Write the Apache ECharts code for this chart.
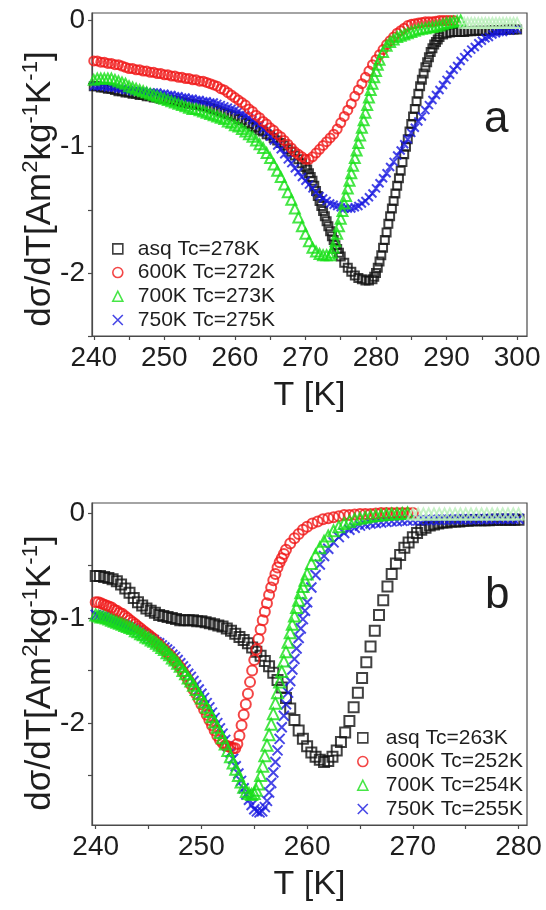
<!DOCTYPE html>
<html>
<head>
<meta charset="utf-8">
<script src="https://cdn.jsdelivr.net/npm/echarts@6/dist/echarts.min.js"></script>
<style>
html,body{margin:0;padding:0;background:#fff;}
#chart{width:546px;height:910px;}
</style>
</head>
<body>
<div id="chart"></div>
<script>
// ---------- panel a : as-quenched and annealed ribbons ----------
var aNames = ['asq Tc=278K', '600K Tc=272K', '700K Tc=273K', '750K Tc=275K'];

var aAsq = [[240,-0.52],[240.5,-0.52],[241,-0.53],[241.5,-0.53],[242,-0.54],[242.5,-0.54],[243,-0.55],[243.5,-0.56],[244,-0.56],[244.5,-0.57],[245,-0.57],[245.5,-0.58],[246,-0.58],[246.5,-0.59],[247,-0.59],[247.5,-0.60],[248,-0.60],[248.5,-0.61],[249,-0.61],[249.5,-0.62],[250,-0.62],[250.5,-0.63],[251,-0.63],[251.5,-0.64],[252,-0.64],[252.5,-0.65],[253,-0.65],[253.5,-0.66],[254,-0.66],[254.5,-0.67],[255,-0.67],[255.5,-0.68],[256,-0.68],[256.5,-0.69],[257,-0.70],[257.5,-0.71],[258,-0.72],[258.5,-0.73],[259,-0.74],[259.5,-0.75],[260,-0.76],[260.5,-0.78],[261,-0.79],[261.5,-0.81],[262,-0.82],[262.5,-0.84],[263,-0.85],[263.5,-0.87],[264,-0.88],[264.5,-0.90],[265,-0.91],[265.5,-0.93],[266,-0.95],[266.5,-0.97],[267,-0.99],[267.5,-1.02],[268,-1.04],[268.5,-1.07],[269,-1.10],[269.5,-1.13],[270,-1.16],[270.25,-1.18],[270.5,-1.21],[270.75,-1.24],[271,-1.27],[271.25,-1.31],[271.5,-1.35],[271.75,-1.39],[272,-1.43],[272.25,-1.47],[272.5,-1.51],[272.75,-1.55],[273,-1.59],[273.25,-1.63],[273.5,-1.67],[273.75,-1.71],[274,-1.74],[274.25,-1.78],[274.5,-1.81],[274.75,-1.84],[275,-1.87],[275.5,-1.92],[276,-1.96],[276.5,-1.99],[277,-2.02],[277.5,-2.04],[278,-2.05],[278.5,-2.06],[279,-2.06],[279.5,-2.05],[279.75,-2.03],[280,-2.00],[280.25,-1.96],[280.5,-1.91],[280.75,-1.86],[281,-1.80],[281.25,-1.74],[281.5,-1.68],[281.75,-1.61],[282,-1.55],[282.25,-1.49],[282.5,-1.43],[282.75,-1.37],[283,-1.31],[283.25,-1.25],[283.5,-1.19],[283.75,-1.12],[284,-1.06],[284.25,-1.00],[284.5,-0.94],[284.75,-0.88],[285,-0.82],[285.25,-0.76],[285.5,-0.70],[285.75,-0.64],[286,-0.58],[286.25,-0.52],[286.5,-0.47],[286.75,-0.42],[287,-0.37],[287.25,-0.33],[287.5,-0.29],[287.75,-0.25],[288,-0.22],[288.25,-0.19],[288.5,-0.17],[288.75,-0.15],[289,-0.13],[289.5,-0.11],[290,-0.10],[290.5,-0.095],[291,-0.09],[291.5,-0.09],[292,-0.09],[292.5,-0.09],[293,-0.085],[293.5,-0.085],[294,-0.08],[294.5,-0.08],[295,-0.08],[295.5,-0.08],[296,-0.08],[296.5,-0.075],[297,-0.075],[297.5,-0.075],[298,-0.075],[298.5,-0.07],[299,-0.07],[299.5,-0.07],[300,-0.07]];

var a600 = [[240,-0.32],[240.5,-0.32],[241,-0.33],[241.5,-0.33],[242,-0.34],[242.5,-0.34],[243,-0.35],[243.5,-0.35],[244,-0.36],[244.5,-0.37],[245,-0.38],[245.5,-0.38],[246,-0.39],[246.5,-0.39],[247,-0.40],[247.5,-0.40],[248,-0.41],[248.5,-0.41],[249,-0.42],[249.5,-0.42],[250,-0.43],[250.5,-0.43],[251,-0.44],[251.5,-0.44],[252,-0.45],[252.5,-0.45],[253,-0.46],[253.5,-0.46],[254,-0.47],[254.5,-0.47],[255,-0.48],[255.5,-0.48],[256,-0.49],[256.5,-0.50],[257,-0.51],[257.5,-0.52],[258,-0.54],[258.5,-0.55],[259,-0.57],[259.5,-0.59],[260,-0.61],[260.5,-0.63],[261,-0.65],[261.5,-0.67],[262,-0.70],[262.5,-0.72],[263,-0.75],[263.5,-0.77],[264,-0.80],[264.5,-0.82],[265,-0.85],[265.5,-0.87],[266,-0.90],[266.5,-0.92],[267,-0.95],[267.5,-0.98],[268,-1.01],[268.5,-1.04],[269,-1.06],[269.5,-1.08],[270,-1.10],[270.5,-1.10],[271,-1.08],[271.5,-1.05],[272,-1.02],[272.5,-0.99],[273,-0.96],[273.5,-0.93],[274,-0.90],[274.5,-0.86],[275,-0.81],[275.5,-0.76],[276,-0.71],[276.5,-0.66],[277,-0.60],[277.5,-0.55],[278,-0.50],[278.5,-0.45],[279,-0.40],[279.5,-0.35],[280,-0.31],[280.5,-0.27],[281,-0.23],[281.5,-0.19],[282,-0.16],[282.5,-0.13],[283,-0.10],[283.5,-0.08],[284,-0.06],[284.5,-0.04],[285,-0.03],[285.5,-0.025],[286,-0.02],[286.5,-0.015],[287,-0.01],[287.5,-0.01],[288,-0.01],[288.5,-0.005],[289,0],[289.5,0],[290,0],[290.5,0],[291,0]];

var a700 = [[240,-0.47],[240.5,-0.46],[241,-0.46],[241.5,-0.46],[242,-0.46],[242.5,-0.46],[243,-0.47],[243.5,-0.48],[244,-0.49],[244.5,-0.50],[245,-0.52],[245.5,-0.53],[246,-0.54],[246.5,-0.55],[247,-0.56],[247.5,-0.57],[248,-0.58],[248.5,-0.59],[249,-0.60],[249.5,-0.61],[250,-0.62],[250.5,-0.63],[251,-0.64],[251.5,-0.65],[252,-0.66],[252.5,-0.67],[253,-0.68],[253.5,-0.69],[254,-0.70],[254.5,-0.70],[255,-0.71],[255.5,-0.72],[256,-0.73],[256.5,-0.74],[257,-0.75],[257.5,-0.76],[258,-0.77],[258.5,-0.78],[259,-0.80],[259.5,-0.81],[260,-0.83],[260.5,-0.84],[261,-0.86],[261.5,-0.88],[262,-0.90],[262.5,-0.92],[263,-0.95],[263.5,-0.98],[264,-1.01],[264.5,-1.05],[265,-1.09],[265.5,-1.14],[266,-1.19],[266.5,-1.24],[267,-1.30],[267.5,-1.36],[268,-1.42],[268.5,-1.49],[269,-1.56],[269.5,-1.63],[270,-1.69],[270.5,-1.75],[271,-1.80],[271.5,-1.83],[272,-1.85],[272.5,-1.86],[273,-1.86],[273.5,-1.86],[273.75,-1.84],[274,-1.80],[274.25,-1.75],[274.5,-1.69],[274.75,-1.63],[275,-1.57],[275.25,-1.51],[275.5,-1.45],[275.75,-1.39],[276,-1.33],[276.25,-1.27],[276.5,-1.21],[276.75,-1.15],[277,-1.09],[277.25,-1.03],[277.5,-0.97],[277.75,-0.91],[278,-0.85],[278.25,-0.79],[278.5,-0.73],[278.75,-0.67],[279,-0.61],[279.25,-0.55],[279.5,-0.50],[279.75,-0.45],[280,-0.40],[280.25,-0.35],[280.5,-0.31],[281,-0.25],[281.5,-0.20],[282,-0.17],[282.5,-0.15],[283,-0.13],[283.5,-0.12],[284,-0.11],[284.5,-0.10],[285,-0.09],[285.5,-0.08],[286,-0.07],[286.5,-0.065],[287,-0.06],[287.5,-0.055],[288,-0.05],[288.5,-0.045],[289,-0.04],[289.5,-0.03],[290,-0.02],[290.5,-0.015],[291,-0.01],[291.5,-0.005],[292,0]];
var a700Tail = [[292.5,-0.02],[293,-0.02],[293.5,-0.02],[294,-0.02],[294.5,-0.02],[295,-0.02],[295.5,-0.02],[296,-0.02],[296.5,-0.02],[297,-0.02],[297.5,-0.02],[298,-0.02],[298.5,-0.02],[299,-0.02],[299.5,-0.02],[300,-0.02]];

var a750 = [[240,-0.52],[240.5,-0.52],[241,-0.52],[241.5,-0.52],[242,-0.53],[242.5,-0.53],[243,-0.53],[243.5,-0.54],[244,-0.54],[244.5,-0.55],[245,-0.55],[245.5,-0.56],[246,-0.56],[246.5,-0.56],[247,-0.56],[247.5,-0.57],[248,-0.57],[248.5,-0.57],[249,-0.57],[249.5,-0.58],[250,-0.58],[250.5,-0.59],[251,-0.59],[251.5,-0.60],[252,-0.60],[252.5,-0.61],[253,-0.61],[253.5,-0.62],[254,-0.62],[254.5,-0.63],[255,-0.63],[255.5,-0.64],[256,-0.64],[256.5,-0.65],[257,-0.65],[257.5,-0.66],[258,-0.67],[258.5,-0.68],[259,-0.69],[259.5,-0.70],[260,-0.71],[260.5,-0.72],[261,-0.74],[261.5,-0.75],[262,-0.77],[262.5,-0.79],[263,-0.81],[263.5,-0.83],[264,-0.86],[264.5,-0.89],[265,-0.92],[265.5,-0.95],[266,-0.99],[266.5,-1.02],[267,-1.06],[267.5,-1.10],[268,-1.13],[268.5,-1.17],[269,-1.20],[269.5,-1.24],[270,-1.27],[270.5,-1.30],[271,-1.33],[271.5,-1.36],[272,-1.39],[272.5,-1.41],[273,-1.43],[273.5,-1.45],[274,-1.46],[274.5,-1.47],[275,-1.48],[275.5,-1.49],[276,-1.49],[276.5,-1.49],[277,-1.48],[277.5,-1.47],[278,-1.45],[278.5,-1.43],[279,-1.40],[279.5,-1.37],[280,-1.33],[280.5,-1.29],[281,-1.25],[281.5,-1.21],[282,-1.16],[282.5,-1.12],[283,-1.07],[283.5,-1.03],[284,-0.98],[284.5,-0.94],[285,-0.89],[285.5,-0.85],[286,-0.80],[286.5,-0.76],[287,-0.71],[287.5,-0.67],[288,-0.63],[288.5,-0.59],[289,-0.55],[289.5,-0.51],[290,-0.47],[290.5,-0.43],[291,-0.39],[291.5,-0.36],[292,-0.32],[292.5,-0.29],[293,-0.26],[293.5,-0.23],[294,-0.21],[294.5,-0.18],[295,-0.16],[295.5,-0.14],[296,-0.13],[296.5,-0.11],[297,-0.10],[297.5,-0.09],[298,-0.09],[298.5,-0.08],[299,-0.08],[299.5,-0.07],[300,-0.07]];

var aXLabels = [240, 250, 260, 270, 280, 290, 300];
var aXTicks = [240, 245, 250, 255, 260, 265, 270, 275, 280, 285, 290, 295, 300];
var aYLabels = [0, -1, -2];
var aYTicks = [0, -0.5, -1, -1.5, -2, -2.5];

// ---------- panel b ----------
var bNames = ['asq Tc=263K', '600K Tc=252K', '700K Tc=254K', '750K Tc=255K'];

var bAsq = [[240.0,-0.60],[240.4,-0.60],[240.8,-0.61],[241.2,-0.62],[241.6,-0.63],[242.0,-0.65],[242.4,-0.68],[242.8,-0.72],[243.2,-0.76],[243.6,-0.81],[244.0,-0.85],[244.4,-0.88],[244.8,-0.91],[245.2,-0.93],[245.6,-0.95],[246.0,-0.97],[246.4,-0.98],[246.8,-0.99],[247.2,-1.00],[247.6,-1.01],[248.0,-1.02],[248.4,-1.02],[248.8,-1.02],[249.2,-1.02],[249.6,-1.03],[250.0,-1.03],[250.4,-1.04],[250.8,-1.05],[251.2,-1.06],[251.6,-1.07],[252.0,-1.08],[252.4,-1.10],[252.8,-1.12],[253.2,-1.15],[253.6,-1.18],[254.0,-1.21],[254.4,-1.24],[254.8,-1.28],[255.2,-1.32],[255.6,-1.36],[256.0,-1.41],[256.4,-1.46],[256.8,-1.52],[257.2,-1.59],[257.6,-1.66],[258.0,-1.76],[258.4,-1.86],[258.8,-1.97],[259.2,-2.07],[259.6,-2.15],[260.0,-2.22],[260.4,-2.28],[260.8,-2.32],[261.2,-2.35],[261.6,-2.37],[262.0,-2.36],[262.4,-2.32],[262.8,-2.26],[263.2,-2.18],[263.6,-2.09],[264.0,-1.98],[264.4,-1.85],[264.8,-1.71],[265.2,-1.57],[265.6,-1.42],[266.0,-1.27],[266.4,-1.12],[266.8,-0.97],[267.2,-0.83],[267.6,-0.70],[268.0,-0.58],[268.4,-0.48],[268.8,-0.40],[269.2,-0.33],[269.6,-0.28],[270.0,-0.23],[270.4,-0.19],[270.8,-0.16],[271.2,-0.14],[271.6,-0.12],[272.0,-0.11],[272.4,-0.10],[272.8,-0.09],[273.2,-0.09],[273.6,-0.08],[274.0,-0.08],[274.4,-0.08],[274.8,-0.075],[275.2,-0.075],[275.6,-0.07],[276.0,-0.07],[276.4,-0.07],[276.8,-0.07],[277.2,-0.07],[277.6,-0.065],[278.0,-0.065],[278.4,-0.065],[278.8,-0.065],[279.2,-0.065],[279.6,-0.065],[280.0,-0.065]];

var b600 = [[240,-0.85],[240.25,-0.85],[240.5,-0.86],[240.75,-0.87],[241,-0.88],[241.25,-0.89],[241.5,-0.90],[241.75,-0.92],[242,-0.93],[242.25,-0.95],[242.5,-0.96],[242.75,-0.98],[243,-1.00],[243.25,-1.02],[243.5,-1.04],[243.75,-1.06],[244,-1.08],[244.25,-1.10],[244.5,-1.12],[244.75,-1.14],[245,-1.16],[245.25,-1.18],[245.5,-1.20],[245.75,-1.23],[246,-1.25],[246.25,-1.28],[246.5,-1.30],[246.75,-1.33],[247,-1.35],[247.25,-1.38],[247.5,-1.41],[247.75,-1.44],[248,-1.47],[248.25,-1.51],[248.5,-1.55],[248.75,-1.59],[249,-1.63],[249.25,-1.68],[249.5,-1.72],[249.75,-1.77],[250,-1.82],[250.25,-1.87],[250.5,-1.92],[250.75,-1.97],[251,-2.02],[251.25,-2.07],[251.5,-2.12],[251.75,-2.16],[252,-2.19],[252.25,-2.21],[252.5,-2.22],[252.75,-2.23],[253,-2.24],[253.2,-2.24],[253.4,-2.20],[253.6,-2.12],[253.8,-2.02],[254,-1.92],[254.2,-1.82],[254.4,-1.72],[254.6,-1.61],[254.8,-1.50],[255,-1.40],[255.2,-1.30],[255.4,-1.20],[255.6,-1.11],[255.8,-1.02],[256,-0.94],[256.2,-0.86],[256.4,-0.78],[256.6,-0.71],[256.8,-0.64],[257,-0.58],[257.2,-0.52],[257.4,-0.47],[257.6,-0.43],[257.8,-0.39],[258,-0.35],[258.4,-0.29],[258.8,-0.24],[259.2,-0.20],[259.6,-0.16],[260,-0.13],[260.5,-0.10],[261,-0.08],[261.5,-0.06],[262,-0.05],[262.5,-0.04],[263,-0.03],[263.5,-0.02],[264,-0.02],[264.5,-0.015],[265,-0.01],[265.5,-0.01],[266,-0.01],[266.5,-0.005],[267,0],[267.5,0],[268,0],[268.5,0],[269,0],[269.5,0],[270,0]];

var b700 = [[240,-0.97],[240.25,-0.98],[240.5,-0.99],[240.75,-0.99],[241,-1.00],[241.25,-1.01],[241.5,-1.02],[241.75,-1.03],[242,-1.04],[242.25,-1.05],[242.5,-1.06],[242.75,-1.07],[243,-1.08],[243.25,-1.09],[243.5,-1.10],[243.75,-1.12],[244,-1.13],[244.25,-1.15],[244.5,-1.16],[244.75,-1.18],[245,-1.19],[245.25,-1.21],[245.5,-1.22],[245.75,-1.24],[246,-1.26],[246.25,-1.28],[246.5,-1.30],[246.75,-1.33],[247,-1.35],[247.25,-1.38],[247.5,-1.40],[247.75,-1.43],[248,-1.46],[248.25,-1.50],[248.5,-1.53],[248.75,-1.57],[249,-1.60],[249.25,-1.64],[249.5,-1.68],[249.75,-1.72],[250,-1.76],[250.25,-1.80],[250.5,-1.85],[250.75,-1.89],[251,-1.94],[251.25,-1.99],[251.5,-2.04],[251.75,-2.09],[252,-2.14],[252.25,-2.20],[252.5,-2.26],[252.75,-2.32],[253,-2.38],[253.25,-2.44],[253.5,-2.50],[253.75,-2.56],[254,-2.61],[254.25,-2.65],[254.5,-2.67],[254.75,-2.68],[255,-2.67],[255.2,-2.64],[255.4,-2.58],[255.6,-2.50],[255.8,-2.41],[256,-2.31],[256.2,-2.21],[256.4,-2.11],[256.6,-2.01],[256.8,-1.91],[257,-1.81],[257.2,-1.71],[257.4,-1.61],[257.6,-1.51],[257.8,-1.41],[258,-1.32],[258.2,-1.23],[258.4,-1.14],[258.6,-1.06],[258.8,-0.98],[259,-0.90],[259.2,-0.83],[259.4,-0.76],[259.6,-0.70],[259.8,-0.64],[260,-0.58],[260.4,-0.48],[260.8,-0.40],[261.2,-0.33],[261.6,-0.27],[262,-0.22],[262.5,-0.17],[263,-0.13],[263.5,-0.10],[264,-0.08],[264.5,-0.06],[265,-0.05],[265.5,-0.04],[266,-0.03],[266.5,-0.025],[267,-0.02],[267.5,-0.015],[268,-0.01],[268.5,-0.008],[269,-0.005],[269.5,0]];
var b700Tail = [[270,-0.01],[270.5,-0.01],[271,-0.01],[271.5,-0.01],[272,-0.01],[272.5,-0.01],[273,-0.01],[273.5,-0.01],[274,-0.01],[274.5,-0.01],[275,-0.01],[275.5,-0.01],[276,-0.01],[276.5,-0.01],[277,-0.01],[277.5,-0.01],[278,-0.01],[278.5,-0.01],[279,-0.01],[279.5,-0.01],[280,-0.01]];

var b750 = [[240,-0.97],[240.25,-0.98],[240.5,-0.99],[240.75,-0.99],[241,-1.00],[241.25,-1.01],[241.5,-1.02],[241.75,-1.03],[242,-1.04],[242.25,-1.05],[242.5,-1.06],[242.75,-1.07],[243,-1.08],[243.25,-1.09],[243.5,-1.10],[243.75,-1.11],[244,-1.12],[244.25,-1.14],[244.5,-1.15],[244.75,-1.17],[245,-1.18],[245.25,-1.20],[245.5,-1.21],[245.75,-1.23],[246,-1.24],[246.25,-1.26],[246.5,-1.28],[246.75,-1.30],[247,-1.32],[247.25,-1.35],[247.5,-1.37],[247.75,-1.40],[248,-1.43],[248.25,-1.46],[248.5,-1.49],[248.75,-1.53],[249,-1.56],[249.25,-1.60],[249.5,-1.64],[249.75,-1.68],[250,-1.72],[250.25,-1.76],[250.5,-1.81],[250.75,-1.85],[251,-1.90],[251.25,-1.95],[251.5,-2.00],[251.75,-2.05],[252,-2.10],[252.25,-2.16],[252.5,-2.22],[252.75,-2.28],[253,-2.34],[253.25,-2.41],[253.5,-2.48],[253.75,-2.55],[254,-2.62],[254.25,-2.68],[254.5,-2.73],[254.75,-2.78],[255,-2.82],[255.25,-2.84],[255.5,-2.85],[255.75,-2.84],[256,-2.80],[256.2,-2.74],[256.4,-2.66],[256.6,-2.57],[256.8,-2.47],[257,-2.37],[257.2,-2.26],[257.4,-2.15],[257.6,-2.04],[257.8,-1.93],[258,-1.82],[258.2,-1.71],[258.4,-1.60],[258.6,-1.49],[258.8,-1.39],[259,-1.29],[259.2,-1.19],[259.4,-1.10],[259.6,-1.01],[259.8,-0.93],[260,-0.85],[260.4,-0.71],[260.8,-0.59],[261.2,-0.49],[261.6,-0.41],[262,-0.34],[262.5,-0.28],[263,-0.23],[263.5,-0.19],[264,-0.16],[264.5,-0.14],[265,-0.12],[265.5,-0.11],[266,-0.10],[266.5,-0.095],[267,-0.09],[267.5,-0.085],[268,-0.08],[268.5,-0.078],[269,-0.075],[269.5,-0.072],[270,-0.07],[270.5,-0.07],[271,-0.068],[271.5,-0.068],[272,-0.065],[272.5,-0.065],[273,-0.063],[273.5,-0.063],[274,-0.06],[274.5,-0.06],[275,-0.06],[275.5,-0.06],[276,-0.06],[276.5,-0.058],[277,-0.058],[277.5,-0.057],[278,-0.055],[278.5,-0.055],[279,-0.055],[279.5,-0.055],[280,-0.055]];

var bXLabels = [240, 250, 260, 270, 280];
var bXTicks = [240, 245, 250, 255, 260, 265, 270, 275, 280];
var bYLabels = [0, -1, -2];
var bYTicks = [0, -0.5, -1, -1.5, -2, -2.5];

// ---------- styling ----------
var FONT = "'Liberation Sans', Arial, sans-serif";
var INK = '#1e1e1e';
var AXIS = '#4a4a4a';
var C_ASQ = '#111111', C_600 = '#f01818', C_700 = '#18e018', C_750 = '#1818e0', C_700PALE = '#b9efb9';
var CROSS = 'path://M0,0L10,10M10,0L0,10';

function xAxisFor(grid, min, max, labels, ticks) {
  return {
    type: 'value', gridIndex: grid, min: min, max: max,
    axisLine: { onZero: false, lineStyle: { color: AXIS, width: 1.2 } },
    axisTick: { customValues: ticks, length: 4, lineStyle: { color: AXIS, width: 1.2 } },
    axisLabel: { customValues: labels, fontSize: 28, fontFamily: FONT, color: INK, margin: 8 },
    splitLine: { show: false },
    name: 'T [K]', nameLocation: 'middle', nameGap: 43,
    nameTextStyle: { fontSize: 34, fontFamily: FONT, color: INK }
  };
}
function yAxisFor(grid, min, max, labels, ticks) {
  return {
    type: 'value', gridIndex: grid, min: min, max: max,
    axisLine: { onZero: false, lineStyle: { color: AXIS, width: 1.2 } },
    axisTick: { customValues: ticks, length: 4, lineStyle: { color: AXIS, width: 1.2 } },
    axisLabel: { customValues: labels, fontSize: 28, fontFamily: FONT, color: INK, margin: 7 },
    splitLine: { show: false }
  };
}
function dots(name, grid, data, symbol, size, color, z) {
  return {
    type: 'scatter', name: name, xAxisIndex: grid, yAxisIndex: grid, data: data,
    symbol: symbol, symbolSize: size, z: z, silent: true,
    itemStyle: { color: 'rgba(0,0,0,0)', borderColor: color, borderWidth: 2 },
    emphasis: { disabled: true }
  };
}
function legendItems(names) {
  return [
    { name: names[0], icon: 'rect', itemStyle: { color: 'rgba(0,0,0,0)', borderColor: C_ASQ, borderWidth: 1.6 } },
    { name: names[1], icon: 'circle', itemStyle: { color: 'rgba(0,0,0,0)', borderColor: C_600, borderWidth: 1.6 } },
    { name: names[2], icon: 'triangle', itemStyle: { color: 'rgba(0,0,0,0)', borderColor: C_700, borderWidth: 1.6 } },
    { name: names[3], icon: CROSS, itemStyle: { color: 'rgba(0,0,0,0)', borderColor: C_750, borderWidth: 1.6 } }
  ];
}
function legendFor(names, left, top, pad) {
  return {
    data: legendItems(names), orient: 'vertical', left: left, top: top, padding: 5,
    itemWidth: 10, itemHeight: 10, itemGap: 0, selectedMode: false,
    textStyle: { fontSize: 21, fontFamily: FONT, color: INK, lineHeight: 23.7, padding: [0, 0, 0, pad] }
  };
}
var yTitle = '{m|dσ/dT[Am}{s|2}{m|kg}{s|-1}{m|K}{s|-1}{m|]}';
var yTitleRich = {
  m: { fontSize: 35, fontFamily: FONT, fill: INK, lineHeight: 40 },
  s: { fontSize: 22, fontFamily: FONT, fill: INK, lineHeight: 24, verticalAlign: 'top' }
};

var chart = echarts.init(document.getElementById('chart'), null, { renderer: 'canvas' });
chart.setOption({
  animation: false,
  backgroundColor: '#ffffff',
  grid: [
    { left: 92, top: 13, width: 435, height: 323, show: true, borderColor: AXIS, borderWidth: 1.2, backgroundColor: 'rgba(0,0,0,0)' },
    { left: 92, top: 503, width: 435, height: 322, show: true, borderColor: AXIS, borderWidth: 1.2, backgroundColor: 'rgba(0,0,0,0)' }
  ],
  xAxis: [
    xAxisFor(0, 239.75, 301.4, aXLabels, aXTicks),
    xAxisFor(1, 239.65, 280.8, bXLabels, bXTicks)
  ],
  yAxis: [
    yAxisFor(0, -2.5, 0.06, aYLabels, aYTicks),
    yAxisFor(1, -2.97, 0.095, bYLabels, bYTicks)
  ],
  legend: [
    legendFor(aNames, 107, 232, 10),
    legendFor(bNames, 352, 721, 13)
  ],
  graphic: [
    { type: 'text', x: 40, y: 189, rotation: Math.PI / 2, silent: true,
      style: { text: yTitle, rich: yTitleRich, align: 'center', verticalAlign: 'middle', fill: INK } },
    { type: 'text', x: 40, y: 673, rotation: Math.PI / 2, silent: true,
      style: { text: yTitle, rich: yTitleRich, align: 'center', verticalAlign: 'middle', fill: INK } },
    { type: 'text', x: 484, y: 120, silent: true,
      style: { text: 'a', fontSize: 44, fontFamily: FONT, fill: INK, align: 'left', verticalAlign: 'middle' } },
    { type: 'text', x: 485, y: 596, silent: true,
      style: { text: 'b', fontSize: 44, fontFamily: FONT, fill: INK, align: 'left', verticalAlign: 'middle' } }
  ],
  series: [
    dots(aNames[0], 0, aAsq, 'rect', 8, C_ASQ, 2),
    dots(aNames[3], 0, a750, CROSS, 8, C_750, 3),
    dots(aNames[1], 0, a600, 'circle', 9, C_600, 4),
    dots(aNames[2], 0, a700, 'triangle', 10, C_700, 5),
    dots(aNames[2], 0, a700Tail, 'triangle', 10, C_700PALE, 6),
    dots(bNames[0], 1, bAsq, 'rect', 10, C_ASQ, 2),
    dots(bNames[3], 1, b750, CROSS, 10, C_750, 3),
    dots(bNames[1], 1, b600, 'circle', 10, C_600, 4),
    dots(bNames[2], 1, b700, 'triangle', 11, C_700, 5),
    dots(bNames[2], 1, b700Tail, 'triangle', 11, C_700PALE, 6)
  ]
});
</script>
</body>
</html>
